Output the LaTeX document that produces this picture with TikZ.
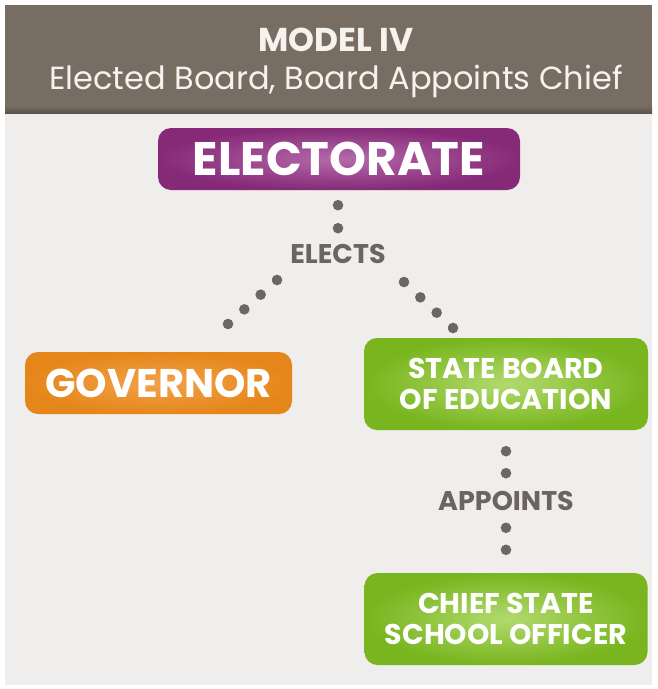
\documentclass[tikz,border=0pt]{standalone}
\usepackage{fontspec}
\setmainfont{Poppins}
\usetikzlibrary{calc}
\definecolor{band}{HTML}{786D63}
\definecolor{panel}{HTML}{EFEEEC}
\definecolor{purpD}{HTML}{862A78}
\definecolor{purpL}{HTML}{B56AAA}
\definecolor{orD}{HTML}{E5861A}
\definecolor{orL}{HTML}{F2A24A}
\definecolor{grD}{HTML}{78B51E}
\definecolor{grL}{HTML}{B2DA6E}
\definecolor{dotc}{HTML}{6E6660}
\definecolor{lbl}{HTML}{6B6460}
\definecolor{hdtext}{HTML}{F6F3EF}
\tikzset{
  box/.style={rounded corners=13pt, text=white, inner sep=0pt, align=center},
  lab/.style={text=lbl, font=\fontsize{27}{27}\selectfont\bfseries, inner sep=0pt},
  dotcol/.style={fill=dotc}
}
\begin{document}
\begin{tikzpicture}[x=1pt,y=-1pt]
\useasboundingbox (0,0) rectangle (657,689);
\fill[white] (0,0) rectangle (657,689);
\fill[panel] (5,113) rectangle (652,685);
\fill[band] (5,5) rectangle (652,113);
\shade[top color=band, bottom color=band!75!black] (5,106) rectangle (652,113);

\node[text=hdtext, font=\fontsize{33}{33}\selectfont\bfseries, inner sep=0pt] (title) at (336,40) {MODEL IV};
\node[text=hdtext, font=\fontsize{32}{32}\selectfont, inner sep=0pt, anchor=base] (sub) at (336,89) {Elected Board, Board Appoints Chief};

\node[box, inner color=purpL, outer color=purpD, minimum width=362, minimum height=62,
      font=\fontsize{47}{47}\selectfont\bfseries] (elect) at (339,159) {ELECTORATE};
\node[box, inner color=orL, outer color=orD, minimum width=267, minimum height=62,
      font=\fontsize{40}{40}\selectfont\bfseries] (gov) at (158.5,383) {GOVERNOR};
\node[box, inner color=grL, outer color=grD, minimum width=284, minimum height=92,
      font=\fontsize{28.5}{31}\selectfont\bfseries] (sbe) at (506,384) {STATE BOARD\\OF EDUCATION};
\node[box, inner color=grL, outer color=grD, minimum width=283, minimum height=92,
      font=\fontsize{28.5}{31}\selectfont\bfseries] (csso) at (506,619) {CHIEF STATE\\SCHOOL OFFICER};

\node[lab] (elects) at (338,254) {ELECTS};
\node[lab] (appoints) at (506,501) {APPOINTS};

% dotted connectors
\coordinate (e1) at ($(elect.south)+(-1,15)$);
\coordinate (e2) at ($(elect.south)+(-1,38)$);
\coordinate (l1) at (277,280);
\coordinate (l2) at (228,324);
\coordinate (r1) at (404,282);
\coordinate (r2) at (453,328);
\coordinate (a1) at ($(sbe.south)+(0,21)$);
\coordinate (a2) at ($(sbe.south)+(0,43)$);
\coordinate (a3) at ($(csso.north)+(0,-45)$);
\coordinate (a4) at ($(csso.north)+(0,-23)$);
\foreach \t in {0,1} \fill[dotcol] ($(e1)!\t!(e2)$) circle (5.3);
\foreach \t in {0,1,2,3} {
  \fill[dotcol] ($(l1)!\t/3!(l2)$) circle (5.3);
  \fill[dotcol] ($(r1)!\t/3!(r2)$) circle (5.3);
}
\foreach \t in {0,1} {
  \fill[dotcol] ($(a1)!\t!(a2)$) circle (5.3);
  \fill[dotcol] ($(a3)!\t!(a4)$) circle (5.3);
}
\end{tikzpicture}
\end{document}
